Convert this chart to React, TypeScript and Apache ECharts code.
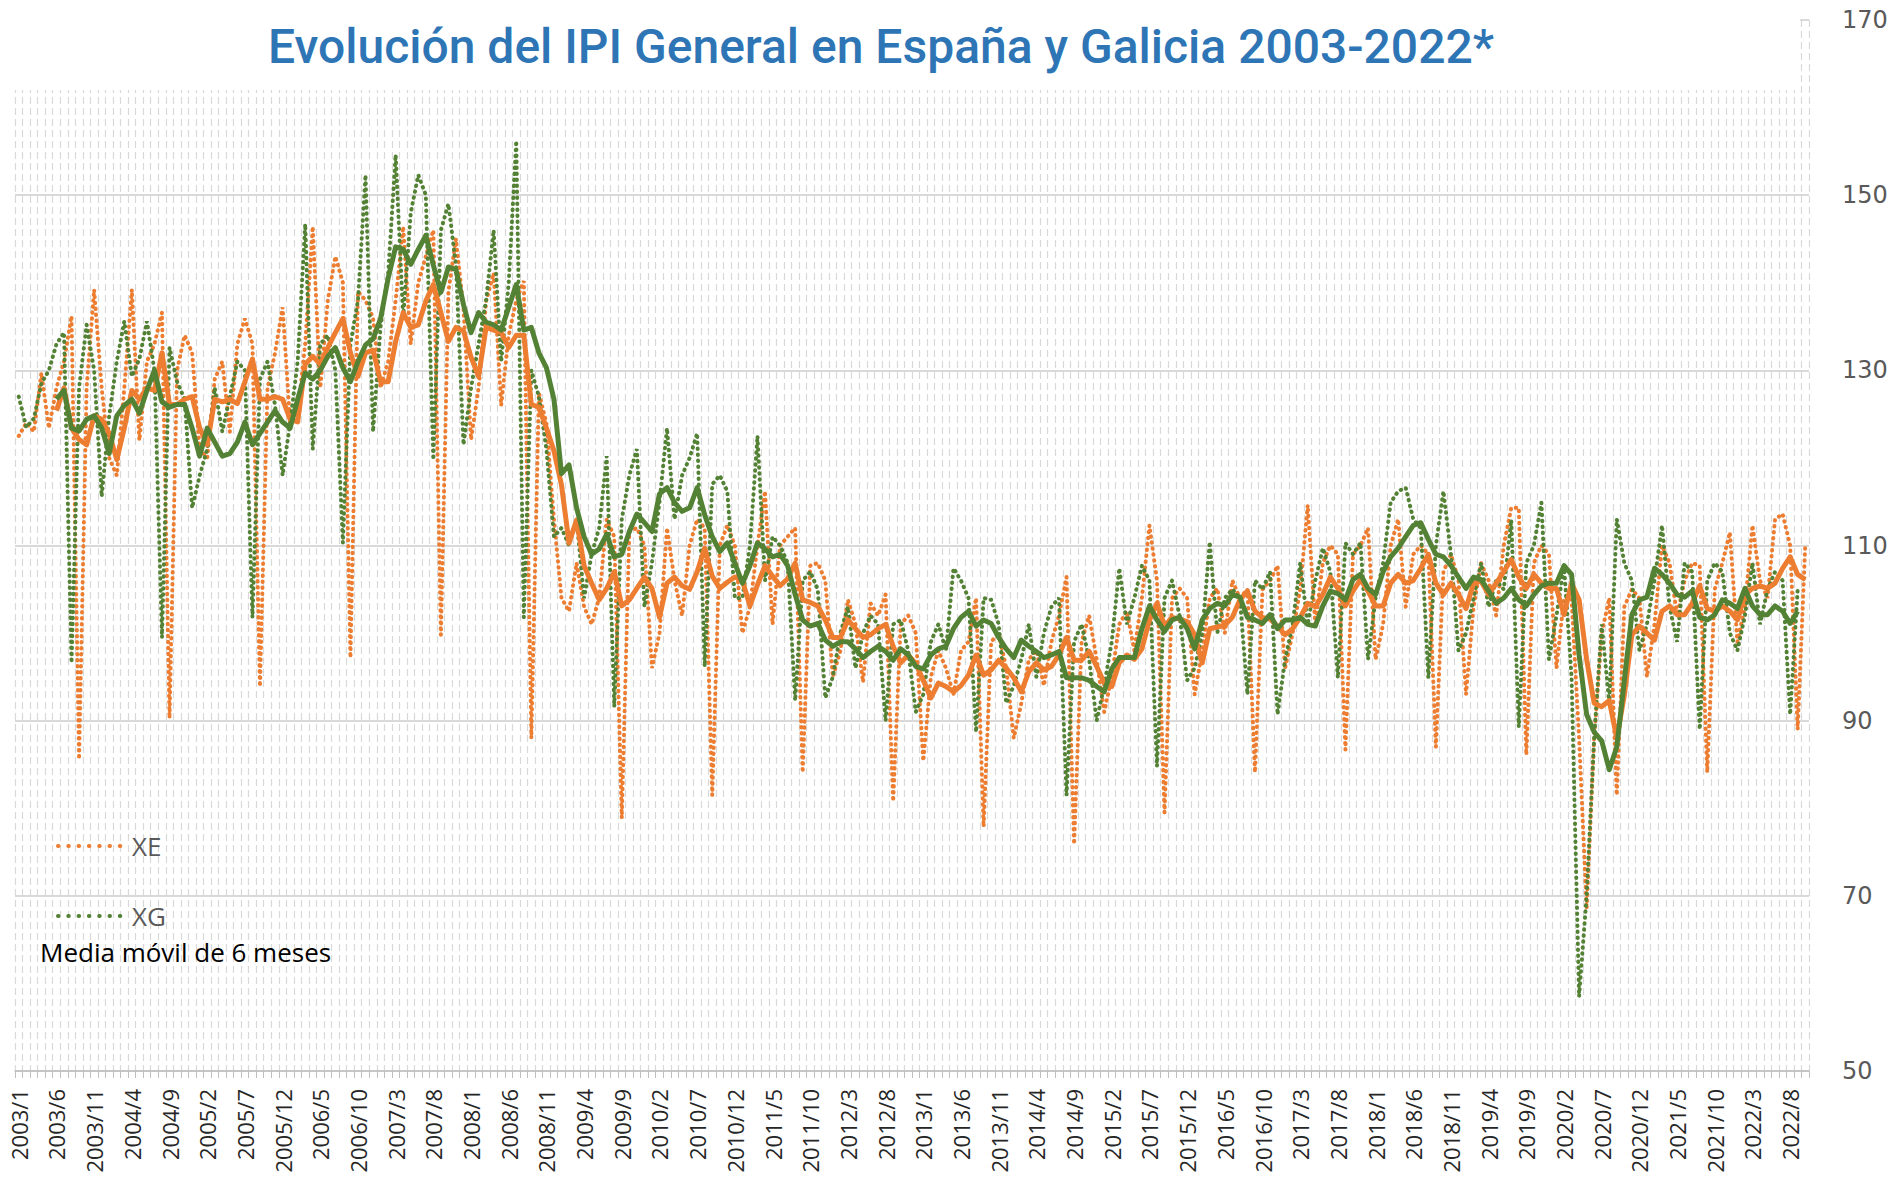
import React, { useEffect, useRef } from 'react';
import * as echarts from 'echarts';

// ---------- data ----------
const startYear = 2003;
const monthCount = 238; // 2003/1 .. 2022/10
const categories: string[] = [];
for (let i = 0; i < monthCount; i++) {
  categories.push(`${startYear + Math.floor(i / 12)}/${(i % 12) + 1}`);
}

const yTicks = [50, 70, 90, 110, 130, 150, 170];

// XE monthly index (orange dotted), one row per year
const xeByYear: number[][] = [
  [122.5, 124, 123, 129.7, 123.4, 128, 131, 136.2, 85.6, 128, 139.2, 128],
  [120, 118, 128, 139.2, 122, 131, 133, 136.6, 90.3, 130, 134, 132],
  [121, 120, 129, 131, 123, 133, 135.9, 133, 93.9, 128, 132, 137.2],
  [124, 125, 133, 146.4, 128, 138, 143, 140, 97.2, 139, 138, 136],
  [128, 131, 138, 146.4, 133, 140, 143, 146, 99.8, 139, 145, 137],
  [122.1, 128, 137.9, 141.1, 126, 134, 138, 140.2, 88, 127.4, 124, 113],
  [104, 102.5, 108, 103, 101, 104, 113, 111, 78.9, 111.6, 112, 110],
  [96, 100, 112, 106, 102, 110, 113, 112, 81.5, 110, 112.3, 110],
  [100, 103, 110, 116.2, 101, 110, 111, 112, 84.1, 107.7, 108, 106],
  [95, 98, 103.8, 101, 94.4, 103.4, 102, 104.4, 80.8, 101, 102, 100],
  [85.4, 95, 98, 96, 93, 98, 99, 104, 77.9, 99, 100, 96],
  [88, 92, 97, 98, 94, 99, 102, 106.4, 75.9, 99, 102, 97],
  [91, 95, 101, 102.5, 98, 104, 112.3, 106, 79.5, 104, 105.1, 104],
  [93, 98, 104, 105.1, 100, 106, 104, 105, 84.1, 105, 106, 107.7],
  [96, 100, 105, 114.6, 101, 108, 110, 109, 86.7, 109, 110, 112],
  [97, 101, 110, 113, 103, 109, 110, 109, 87, 107, 109, 106],
  [93, 103, 108, 106, 102, 110, 114.3, 114.3, 86.1, 108, 110, 109],
  [96, 104, 104, 88, 68.5, 88, 100, 104, 81.5, 103, 105, 104],
  [95, 101, 110, 108, 102, 106, 108, 107.7, 84.1, 105, 108, 111.5],
  [99, 103, 112.3, 106, 104, 113, 113.6, 110, 89, 110],
];

// XG monthly index (green dotted)
const xgByYear: number[][] = [
  [127, 123.5, 124.5, 128.5, 130, 133, 134.3, 96.6, 128, 135.2, 130, 115.6],
  [124.8, 131, 135.6, 129.3, 131.3, 135.6, 130, 99.5, 132.6, 128.7, 126.7, 114.3],
  [118, 121, 128, 123, 127, 131, 130, 101.8, 129, 131, 126, 118],
  [124, 131, 146.7, 121, 133, 134, 130, 110.3, 133, 138, 152.3, 123],
  [135, 141, 154.6, 136, 148, 152.3, 150, 119.8, 146, 149, 142, 121.5],
  [128, 133, 138, 146, 131, 140, 156.2, 101.8, 130, 127, 121, 111],
  [112, 110, 113, 104, 109, 112, 120.2, 91.6, 113, 118, 121, 103],
  [108, 115, 123.4, 113, 118, 120, 122.8, 96.2, 117, 118, 116.2, 104],
  [104, 110, 122.5, 106, 111, 110, 108, 92.3, 106, 107, 105, 92.6],
  [95, 100, 103, 96, 100, 102, 101, 90, 101, 101.5, 98, 91],
  [93, 99, 101, 98, 107.4, 106, 104, 88.7, 104, 103.8, 101, 92],
  [94, 97, 101, 95, 100, 103, 104, 81.5, 99, 101, 97, 90],
  [94, 99, 107.4, 101, 104, 107.7, 106, 84.8, 104, 106, 102, 94.6],
  [96, 100, 110.4, 100, 104, 105, 104, 93, 106, 105, 107, 90.7],
  [97, 101, 108, 101, 106, 109.7, 107, 94.9, 110.3, 109, 110.3, 97],
  [104, 108, 114.9, 116.2, 116.6, 113, 112, 94.9, 110, 116.2, 109, 98],
  [100, 104, 108, 103, 106, 105, 112.9, 89.3, 108, 110, 114.9, 97],
  [102, 107.7, 95, 58.5, 70, 88, 101, 92, 113, 108, 106, 98],
  [101, 106, 112.3, 103, 99, 108, 107, 89, 106, 108, 107, 100],
  [98, 102, 108, 101, 105, 107, 106, 90.7, 105],
];

// 6-month moving averages (solid lines)
const xeMA6ByYear: (number | null)[][] = [
  [null, null, null, null, null, 125.4, 128.0, 123.4, 122.1, 121.5, 124.8, 124.4],
  [122.8, 119.8, 123.4, 127.7, 126.7, 128.0, 127.7, 132.0, 126.1, 126.1, 126.7, 127.0],
  [123.4, 121.5, 126.7, 126.4, 126.7, 126.2, 128.7, 131.3, 126.7, 126.7, 127.0, 126.7],
  [124.4, 124.1, 130.7, 131.6, 130.7, 132.6, 134.3, 135.9, 132.0, 129.3, 132.0, 132.3],
  [128.7, 128.7, 133.3, 136.6, 134.9, 135.2, 137.9, 139.8, 136.6, 133.3, 134.9, 134.5],
  [131.5, 129.3, 134.9, 134.6, 134.3, 132.6, 134.0, 134.0, 126.1, 125.8, 123.4, 120.8],
  [116.9, 110.3, 112.9, 107.7, 105.7, 103.8, 105.1, 107.0, 103.1, 103.8, 105.1, 106.4],
  [105.1, 101.8, 105.7, 106.4, 105.4, 105.0, 107.0, 109.7, 106.5, 105.1, 105.8, 106.4],
  [106.0, 103.1, 105.5, 107.7, 106.5, 105.4, 106.2, 108.0, 103.8, 103.5, 103.1, 101.5],
  [99.5, 99.5, 101.5, 100.5, 99.5, 99.8, 100.5, 101.0, 98.5, 96.6, 97.5, 96.5],
  [94.6, 92.6, 94.3, 93.9, 93.3, 94.0, 95.2, 97.5, 95.2, 95.8, 96.9, 96.0],
  [94.9, 93.3, 95.6, 96.6, 95.8, 96.2, 97.5, 99.5, 96.9, 96.9, 97.9, 96.2],
  [94.3, 93.9, 96.6, 97.5, 97.0, 98.2, 101.5, 103.4, 100.8, 101.8, 101.6, 101.3],
  [99.8, 96.6, 100.5, 100.7, 100.9, 101.8, 103.8, 104.8, 102.5, 101.8, 101.6, 100.8],
  [99.8, 100.5, 101.8, 103.4, 103.0, 104.4, 106.4, 105.1, 103.1, 104.8, 106.1, 104.8],
  [103.1, 103.1, 105.7, 106.7, 105.7, 106.0, 107.4, 109.0, 105.7, 104.4, 105.7, 104.4],
  [102.8, 105.7, 105.9, 104.4, 105.7, 107.0, 108.4, 106.4, 105.1, 106.7, 105.7, 105.1],
  [105.1, 102.1, 105.7, 103.8, 97.0, 92.0, 91.6, 92.3, 88.0, 92.9, 99.8, 100.8],
  [100.0, 99.2, 102.5, 103.1, 102.1, 102.1, 103.4, 105.4, 102.8, 102.5, 103.1, 102.5],
  [101.5, 104.4, 105.1, 105.4, 105.1, 105.7, 107.4, 108.7, 106.7, 106.1],
];

const xgMA6ByYear: (number | null)[][] = [
  [null, null, null, null, null, 126.7, 127.7, 123.4, 123.1, 124.4, 124.8, 123.4],
  [120.5, 124.8, 126.0, 126.7, 125.1, 127.7, 130.0, 126.4, 125.8, 126.1, 126.1, 123.4],
  [120.2, 123.4, 121.8, 120.2, 120.5, 121.8, 124.1, 121.5, 122.8, 124.1, 125.4, 124.1],
  [123.4, 126.7, 129.7, 129.0, 130.0, 131.6, 132.6, 130.3, 128.7, 131.0, 132.9, 133.6],
  [135.9, 140.5, 144.1, 143.8, 142.1, 143.8, 145.4, 142.0, 138.9, 141.8, 141.5, 137.5],
  [134.3, 136.6, 135.5, 135.2, 134.6, 137.2, 139.8, 134.6, 134.9, 132.0, 130.3, 126.7],
  [118.2, 119.2, 114.3, 111.0, 109.0, 109.6, 111.3, 108.7, 109.0, 111.6, 113.6, 112.6],
  [111.6, 115.9, 116.6, 114.9, 113.9, 114.3, 116.6, 113.5, 111.0, 109.3, 110.3, 108.0],
  [105.7, 107.7, 110.3, 109.6, 108.7, 109.0, 107.7, 104.4, 101.5, 100.8, 101.1, 99.2],
  [98.5, 99.0, 99.0, 98.2, 97.2, 97.9, 98.5, 97.9, 96.9, 98.2, 97.5, 96.2],
  [95.9, 97.5, 98.2, 98.5, 100.5, 101.8, 102.5, 100.8, 101.5, 101.1, 99.5, 98.2],
  [97.2, 99.2, 98.5, 97.9, 97.2, 97.5, 97.9, 94.9, 94.9, 94.9, 94.6, 93.9],
  [93.3, 95.9, 97.2, 97.2, 97.2, 100.5, 103.1, 101.5, 100.2, 101.5, 101.8, 100.5],
  [98.2, 101.5, 102.8, 103.4, 103.1, 104.4, 104.1, 101.8, 101.5, 101.1, 102.1, 100.5],
  [101.5, 101.5, 101.8, 101.0, 100.8, 103.1, 104.8, 104.5, 103.8, 106.1, 106.7, 105.1],
  [104.4, 107.0, 108.7, 109.7, 111.0, 112.3, 112.6, 110.7, 109.0, 108.7, 107.7, 106.4],
  [105.1, 106.4, 106.1, 104.8, 103.4, 104.0, 105.1, 103.8, 103.1, 104.4, 105.4, 105.7],
  [105.7, 107.7, 106.7, 97.5, 90.7, 88.7, 87.7, 84.4, 87.0, 94.6, 102.1, 103.8],
  [104.1, 107.4, 106.7, 105.7, 104.4, 104.1, 104.8, 101.8, 101.5, 102.1, 103.8, 103.4],
  [102.8, 105.1, 103.1, 102.1, 102.1, 103.1, 102.5, 101.1, 102.5],
];

const xe = xeByYear.flat();
const xg = xgByYear.flat();
const xeMA6 = xeMA6ByYear.flat();
const xgMA6 = xgMA6ByYear.flat();

const legendItems = [
  { name: 'XE', color: '#ED7D31', y: 846 },
  { name: 'XG', color: '#548235', y: 916 },
];

const ORANGE = '#ED7D31';
const GREEN = '#548235';

export default function App() {
  const ref = useRef<HTMLDivElement>(null);

  useEffect(() => {
    if (!ref.current) return;
    const chart = echarts.init(ref.current, null, { renderer: 'svg' });
    const dotted = (color: string) => ({
      color,
      width: 4,
      type: [0.5, 5.5] as any,
      cap: 'round' as const,
    });

    const legendGraphics: any[] = [];
    legendItems.forEach((it) => {
      legendGraphics.push({
        type: 'line',
        z: 60,
        shape: { x1: 58, y1: it.y, x2: 121, y2: it.y },
        style: { stroke: it.color, lineWidth: 4, lineDash: [0.5, 9.8], lineCap: 'round' },
      });
      legendGraphics.push({
        type: 'text',
        z: 60,
        x: 132,
        y: it.y,
        style: {
          text: it.name,
          fontSize: 26,
          fontFamily: 'Open Sans',
          fill: '#595959',
          textAlign: 'left',
          textVerticalAlign: 'middle',
        },
      });
    });

    chart.setOption({
      animation: false,
      backgroundColor: '#ffffff',
      grid: { left: 15, right: 87, top: 20, bottom: 112, containLabel: false },
      xAxis: {
        type: 'category',
        data: categories,
        boundaryGap: true,
        axisLine: { lineStyle: { color: '#BFBFBF', width: 1.5 } },
        axisTick: { show: true, interval: 0, length: 7, lineStyle: { color: '#BFBFBF' } },
        axisLabel: {
          interval: 4,
          rotate: 90,
          fontSize: 22,
          fontFamily: 'Open Sans',
          color: '#262626',
          margin: 18,
        },
        splitLine: {
          show: true,
          interval: 0,
          lineStyle: { color: '#D9D9D9', width: 1.2, type: [7, 4] },
        },
      },
      yAxis: {
        type: 'value',
        position: 'right',
        min: yTicks[0],
        max: yTicks[yTicks.length - 1],
        interval: 20,
        axisLine: { show: false },
        axisTick: { show: false },
        axisLabel: { color: '#595959', fontSize: 24, fontFamily: 'DejaVu Sans', margin: 33 },
        splitLine: { lineStyle: { color: '#D9D9D9', width: 2 } },
      },
      graphic: [
        {
          type: 'rect',
          z: 50,
          shape: { x: 0, y: 0, width: 1800, height: 90 },
          style: { fill: '#ffffff' },
        },
        {
          type: 'text',
          z: 60,
          x: 881,
          y: 46,
          style: {
            text: 'Evolución del IPI General en España y Galicia 2003-2022*',
            fontSize: 48,
            fontWeight: 500,
            fontFamily: 'Roboto',
            fill: '#2E75B6',
            textAlign: 'center',
            textVerticalAlign: 'middle',
          },
        },
        ...legendGraphics,
        {
          type: 'text',
          z: 60,
          x: 40,
          y: 952,
          style: {
            text: 'Media móvil de 6 meses',
            fontSize: 26,
            fontFamily: 'Open Sans',
            fill: '#000000',
            textAlign: 'left',
            textVerticalAlign: 'middle',
          },
        },
      ],
      series: [
        {
          name: 'XE',
          type: 'line',
          data: xe,
          symbol: 'none',
          showSymbol: false,
          itemStyle: { color: ORANGE },
          lineStyle: dotted(ORANGE),
          z: 2,
        },
        {
          name: 'XG',
          type: 'line',
          data: xg,
          symbol: 'none',
          showSymbol: false,
          itemStyle: { color: GREEN },
          lineStyle: dotted(GREEN),
          z: 2,
        },
        {
          name: 'Media móvil XE',
          type: 'line',
          data: xeMA6,
          symbol: 'none',
          showSymbol: false,
          itemStyle: { color: ORANGE },
          lineStyle: { color: ORANGE, width: 5, join: 'round' },
          z: 3,
        },
        {
          name: 'Media móvil XG',
          type: 'line',
          data: xgMA6,
          symbol: 'none',
          showSymbol: false,
          itemStyle: { color: GREEN },
          lineStyle: { color: GREEN, width: 5, join: 'round' },
          z: 4,
        },
      ],
    });
    return () => chart.dispose();
  }, []);

  return (
    <div
      ref={ref}
      style={{ position: 'fixed', left: 0, top: 0, width: '1896px', height: '1183px', background: '#fff' }}
    />
  );
}
